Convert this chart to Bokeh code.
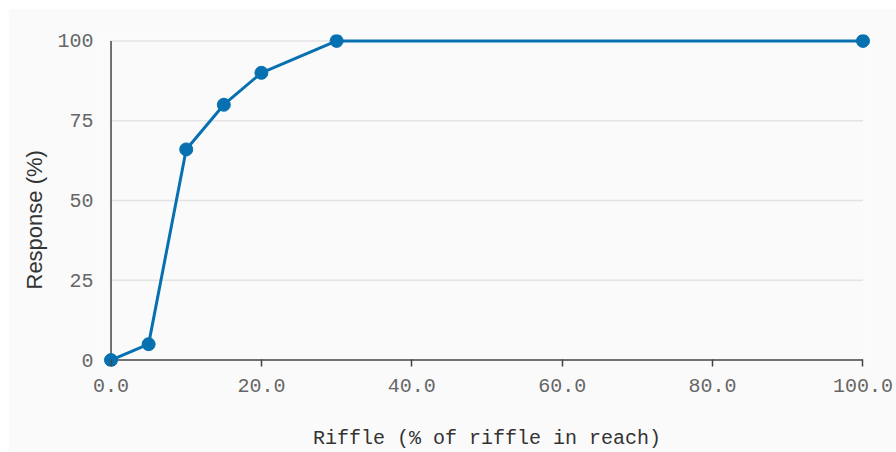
from bokeh.plotting import figure
from bokeh.models import (FixedTicker, Range1d, Title, PrintfTickFormatter,
                          ColumnDataSource)
from bokeh.embed import file_html
from bokeh.resources import INLINE

# data
riffle_pct = [0, 5, 10, 15, 20, 30, 100]
response_pct = [0, 5, 66, 80, 90, 100, 100]
x_ticks = [0, 20, 40, 60, 80, 100]
y_ticks = [0, 25, 50, 75, 100]
x_label = "Riffle (% of riffle in reach)"
y_label = "Response (%)"

BG = "#fafafa"
LINE = "#0670b0"
AXIS = "#444444"
MONO = "Liberation Mono"

p = figure(width=888, height=444, output_backend="svg", toolbar_location=None,
           x_range=Range1d(-1, 101), y_range=Range1d(-2, 102),
           background_fill_color=BG, border_fill_color=BG,
           min_border_left=95, min_border_right=26, min_border_top=26,
           min_border_bottom=84)
p.margin = (8, 0, 0, 8)
p.outline_line_color = None
p.xgrid.visible = False
p.ygrid.visible = False

xa = p.xaxis[0]
ya = p.yaxis[0]
xa.ticker = FixedTicker(ticks=x_ticks)
ya.ticker = FixedTicker(ticks=y_ticks)
xa.formatter = PrintfTickFormatter(format="%.1f")
ya.formatter = PrintfTickFormatter(format="%d")
for ax in (xa, ya):
    ax.axis_line_color = None
    ax.major_tick_line_color = AXIS
    ax.major_tick_line_width = 1.5
    ax.minor_tick_line_color = None
    ax.major_label_text_font = MONO
    ax.major_label_text_font_size = "20px"
    ax.major_label_text_color = "#666666"
xa.major_tick_out = 0
xa.major_tick_in = 7
xa.major_label_standoff = 12
ya.major_tick_out = 0
ya.major_tick_in = 0
ya.major_label_standoff = 10

xa.axis_label = x_label
xa.axis_label_text_font = MONO
xa.axis_label_text_font_size = "20px"
xa.axis_label_text_font_style = "normal"
xa.axis_label_text_color = "#333333"
xa.axis_label_standoff = 32

p.add_layout(Title(text=y_label, align="left", offset=69, padding=8,
                   text_font="Liberation Sans", text_font_size="22px",
                   text_font_style="normal", text_color="#333333",
                   standoff=0), "left")

# grid lines and axis lines, bounded to the tick extent
gx0 = [x_ticks[0]] * (len(y_ticks) - 1)
gx1 = [x_ticks[-1]] * (len(y_ticks) - 1)
p.segment(x0=gx0, x1=gx1, y0=y_ticks[1:], y1=y_ticks[1:],
          line_color="#e3e3e3", line_width=1.5)
p.segment(x0=[x_ticks[0], x_ticks[0]], y0=[y_ticks[0], y_ticks[0]],
          x1=[x_ticks[-1], x_ticks[0]], y1=[y_ticks[0], y_ticks[-1]],
          line_color=AXIS, line_width=1.5)

src = ColumnDataSource(dict(x=riffle_pct, y=response_pct))
p.line("x", "y", source=src, line_color=LINE, line_width=3)
p.scatter("x", "y", source=src, size=13, fill_color=LINE, line_color=LINE)

open("out.html", "w").write(file_html(p, INLINE))
